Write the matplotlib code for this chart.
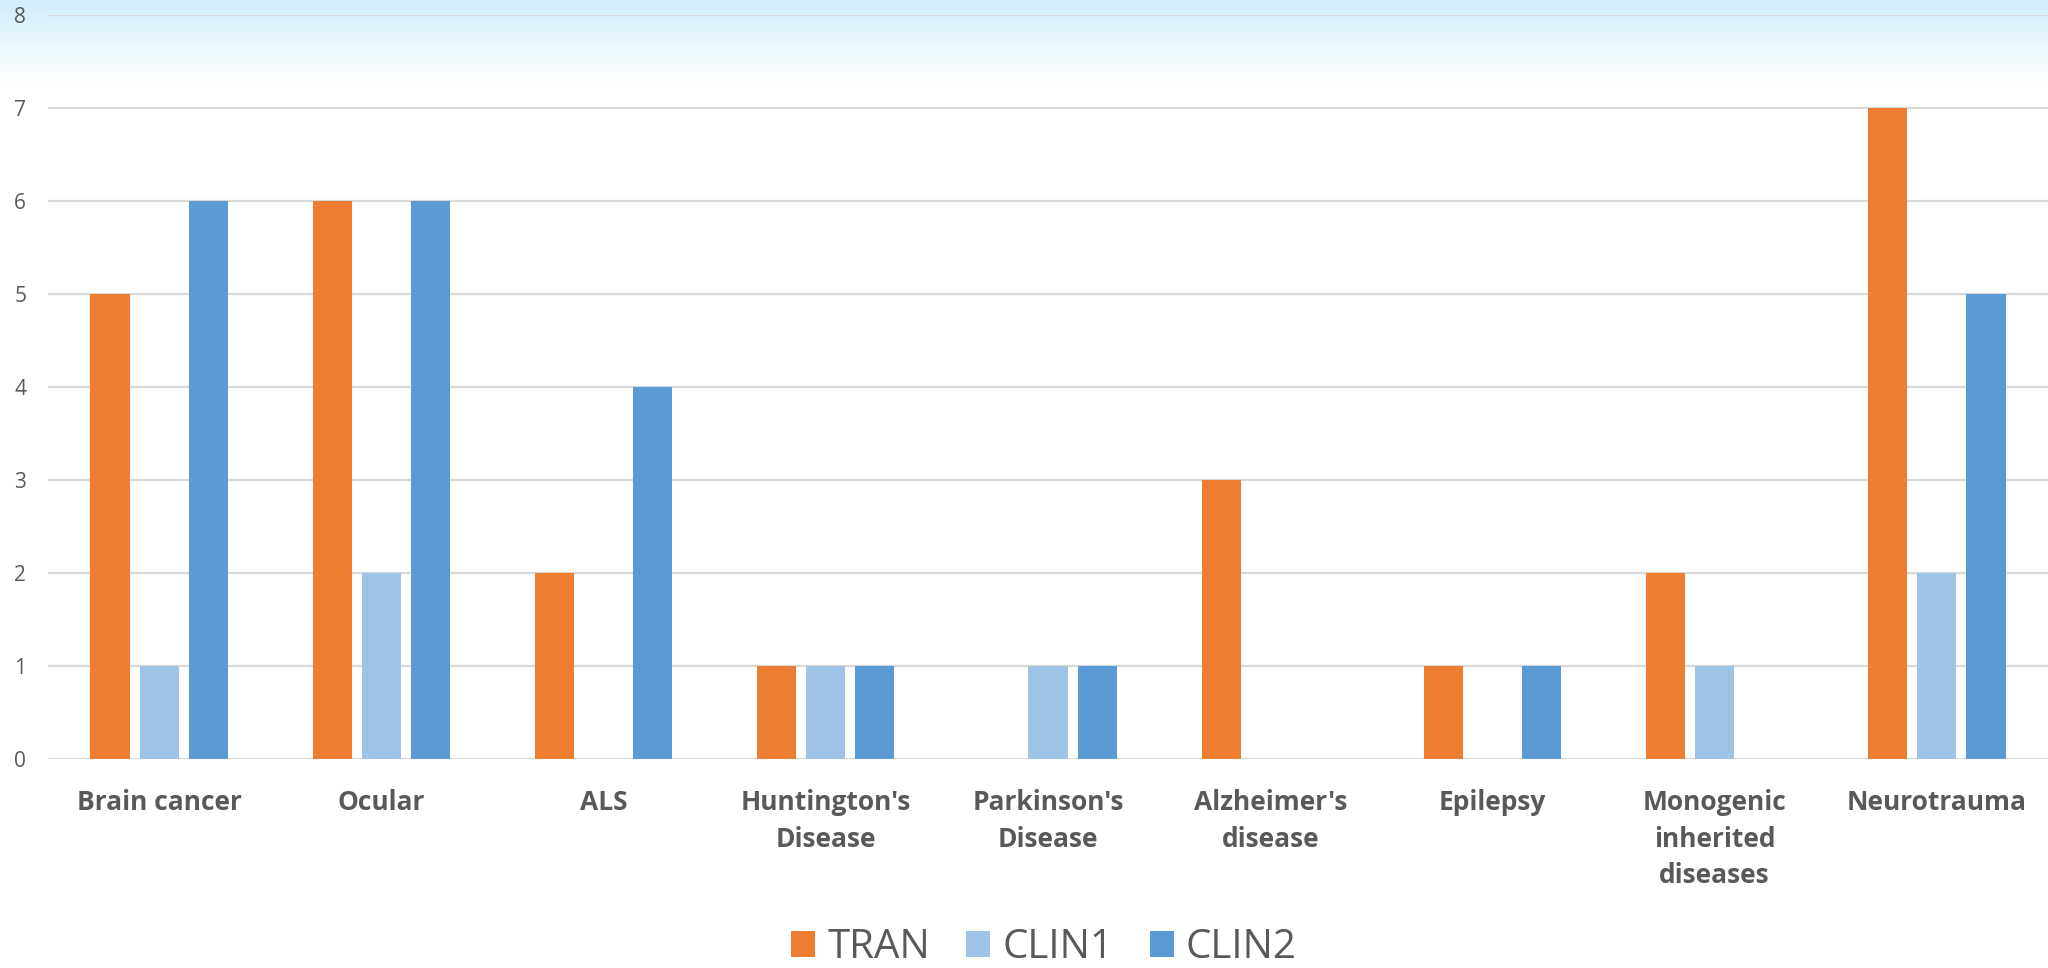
import numpy as np
import matplotlib
matplotlib.use("Agg")
import matplotlib.pyplot as plt
from matplotlib.patches import Patch
from matplotlib import font_manager

categories = ["Brain cancer", "Ocular", "ALS", "Huntington's\nDisease", "Parkinson's\nDisease",
              "Alzheimer's\ndisease", "Epilepsy", "Monogenic\ninherited\ndiseases", "Neurotrauma"]
series_names = ["TRAN", "CLIN1", "CLIN2"]
tran = [5, 6, 2, 1, 0, 3, 1, 2, 7]
clin1 = [1, 2, 0, 1, 1, 0, 0, 1, 2]
clin2 = [6, 6, 4, 1, 1, 0, 1, 0, 5]
colors = ["#ED7D31", "#9DC3E6", "#5B9BD5"]
yticks = [0, 1, 2, 3, 4, 5, 6, 7, 8]

names = {f.name for f in font_manager.fontManager.ttflist}
narrow = "Liberation Sans Narrow" in names
leg_family = "Liberation Sans Narrow" if narrow else "Open Sans"
leg_size = 33 if narrow else 29

W, H = 2048, 968
fig = plt.figure(figsize=(W / 100, H / 100), dpi=100)
fig.patch.set_facecolor("white")

# gradient background at the top
bg = fig.add_axes([0, 0, 1, 1], zorder=-10)
n = 400
t = np.linspace(0, 1, n)  # 0 at top
top = np.array([0xD1, 0xEE, 0xFA]) / 255.0
white = np.array([1.0, 1.0, 1.0])
frac = np.clip(t * H / 80.0, 0, 1)
grad = top[None, :] * (1 - frac[:, None]) + white[None, :] * frac[:, None]
img = np.repeat(grad[:, None, :], 2, axis=1)
bg.imshow(img, aspect="auto", extent=[0, 1, 0, 1], origin="upper")
bg.set_axis_off()

ax = fig.add_axes([48 / W, 1 - 758.7 / H, 1 - 48 / W, (758.7 - 15) / H])
ax.patch.set_alpha(0)

x = np.arange(len(categories))
width = 0.176
step = 0.221
for i, (vals, name, c) in enumerate(zip([tran, clin1, clin2], series_names, colors)):
    ax.bar(x + (i - 1) * step, vals, width=width, color=c, label=name, zorder=3)

ax.set_xlim(-0.5, len(categories) - 0.5)
ax.set_ylim(0, 8)
ax.set_yticks(yticks)
ax.grid(axis="y", color="#D9D9D9", linewidth=1.6, zorder=0)
ax.set_axisbelow(True)
for s in ax.spines.values():
    s.set_visible(False)
ax.tick_params(axis="both", length=0)
ax.set_yticklabels([str(v) for v in yticks], fontsize=15, color="#595959", fontfamily="Open Sans")
ax.tick_params(axis="y", pad=20)
ax.set_xticks(x)
ax.set_xticklabels(categories, fontsize=19, fontweight="bold", color="#595959",
                   fontfamily="Open Sans", linespacing=1.45)
ax.tick_params(axis="x", pad=22)
for lbl in ax.get_yticklabels():
    lbl.set_horizontalalignment("center")

handles = [Patch(facecolor=c, edgecolor="none") for c in colors]
leg = fig.legend(handles, series_names, loc="center", bbox_to_anchor=(1044 / W, 1 - 948 / H),
                 ncol=3, frameon=False, handlelength=0.6, handleheight=0.6,
                 handletextpad=0.3, columnspacing=0.9, borderpad=0.1,
                 prop={"family": leg_family, "size": leg_size})
for t_ in leg.get_texts():
    t_.set_color("#595959")

fig.savefig("out.png", dpi=100)
